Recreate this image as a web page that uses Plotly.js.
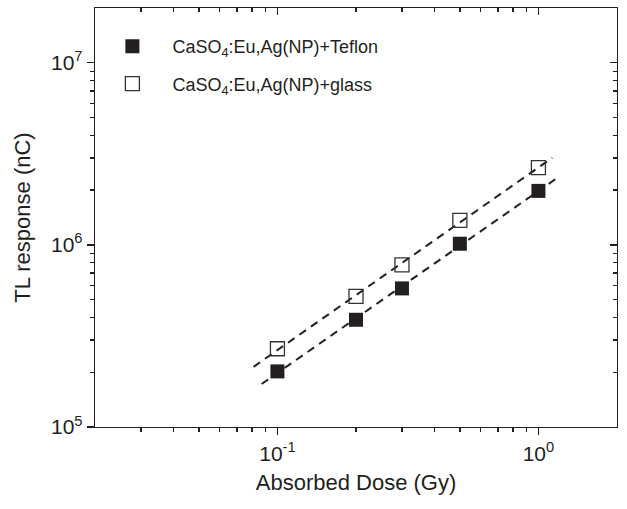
<!DOCTYPE html>
<html>
<head>
<meta charset="utf-8">
<script src="https://cdn.plot.ly/plotly-3.0.1.min.js"></script>
<style>html,body{margin:0;padding:0;background:#fff;}#chart{width:627px;height:509px;}</style>
</head>
<body>
<div id="chart"></div>
<script>
// Data
const dose = [0.1, 0.2, 0.3, 0.5, 1.0];
const teflonTL = [2.02e5, 3.88e5, 5.77e5, 1.015e6, 1.98e6];
const glassTL = [2.69e5, 5.21e5, 7.76e5, 1.363e6, 2.66e6];
const teflonFitSpan = [0.087, 1.21];
const glassFitSpan = [0.081, 1.13];
const seriesNames = ['CaSO<sub>4</sub>:Eu,Ag(NP)+Teflon', 'CaSO<sub>4</sub>:Eu,Ag(NP)+glass'];
const xTickVals = [0.1, 1];
const xTickText = ['10<sup>-1</sup>', '10<sup>0</sup>'];
const yTickVals = [1e5, 1e6, 1e7];
const yTickText = ['10<sup>5</sup>', '10<sup>6</sup>', '10<sup>7</sup>'];

// power-law (log-log linear) fit from the data
function logFit(xs, ys, span) {
  const lx = xs.map(Math.log10), ly = ys.map(Math.log10);
  const n = lx.length;
  const mx = lx.reduce((a, b) => a + b, 0) / n, my = ly.reduce((a, b) => a + b, 0) / n;
  let sxy = 0, sxx = 0;
  for (let i = 0; i < n; i++) { sxy += (lx[i] - mx) * (ly[i] - my); sxx += (lx[i] - mx) ** 2; }
  const b = sxy / sxx, a = my - b * mx;
  return span.map(x => Math.pow(10, a + b * Math.log10(x)));
}

function minorVals(lo, hi) {
  const out = [];
  for (let e = lo; e <= hi; e++) {
    for (let m = 2; m <= 9; m++) out.push(m * Math.pow(10, e));
  }
  return out;
}

const ink = '#231f20';
const font = 'Liberation Sans, Arial, sans-serif';

const traces = [
  {x: teflonFitSpan, y: logFit(dose, teflonTL, teflonFitSpan), mode: 'lines', showlegend: false,
   line: {color: ink, width: 2, dash: '8px,6px'}, hoverinfo: 'skip'},
  {x: glassFitSpan, y: logFit(dose, glassTL, glassFitSpan), mode: 'lines', showlegend: false,
   line: {color: ink, width: 2, dash: '8px,6px'}, hoverinfo: 'skip'},
  {x: dose, y: teflonTL, mode: 'markers', name: seriesNames[0], legendgroup: 'a', xaxis: 'x2', yaxis: 'y2',
   marker: {symbol: 'square', size: 14, color: ink, line: {width: 0}}},
  {x: dose, y: glassTL, mode: 'markers', name: seriesNames[1], legendgroup: 'b', xaxis: 'x2', yaxis: 'y2',
   marker: {symbol: 'square-open', size: 14, color: '#333', line: {width: 1.3}}}
];

const xr = [Math.log10(0.02), Math.log10(2)];
const yr = [5, Math.log10(2e7)];
const xMinor = minorVals(-2, -1).filter(v => v > 0.0201 && v < 1).concat([2,3,4,5,6,7,8,9].map(m => m / 10));
const yMinor = minorVals(5, 6);

const commonAxis = {
  type: 'log', showgrid: false, zeroline: false,
  showline: true, linecolor: ink, linewidth: 1.3,
  tickcolor: ink, tickwidth: 1.3, ticklen: 7,
  tickfont: {family: font, size: 21, color: ink}
};

const layout = {
  width: 627, height: 509,
  margin: {l: 95, r: 10, t: 8, b: 82},
  paper_bgcolor: '#fff', plot_bgcolor: '#fff',
  font: {family: font, color: ink},
  showlegend: true,
  legend: {x: -0.005, y: 0.952, xanchor: 'left', yanchor: 'top',
           bgcolor: 'rgba(0,0,0,0)', itemwidth: 70, tracegroupgap: 11,
           font: {family: font, size: 18, color: ink}},
  xaxis: Object.assign({}, commonAxis, {
    range: xr, tickmode: 'array', tickvals: xTickVals, ticktext: xTickText, ticks: 'outside',
    minor: {tickmode: 'array', tickvals: xMinor, ticks: 'outside', ticklen: 4, tickwidth: 1.3, tickcolor: ink},
    title: {text: 'Absorbed Dose (Gy)', font: {family: font, size: 22, color: ink}, standoff: 11}
  }),
  xaxis2: Object.assign({}, commonAxis, {
    overlaying: 'x', anchor: 'y2', side: 'top', range: xr, tickmode: 'array', tickvals: xTickVals,
    ticks: 'inside', showticklabels: false,
    minor: {tickmode: 'array', tickvals: xMinor, ticks: 'inside', ticklen: 4, tickwidth: 1.3, tickcolor: ink}
  }),
  yaxis: Object.assign({}, commonAxis, {
    range: yr, tickmode: 'array', tickvals: yTickVals, ticktext: yTickText, ticks: 'outside',
    minor: {tickmode: 'array', tickvals: yMinor, ticks: 'outside', ticklen: 4, tickwidth: 1.3, tickcolor: ink},
    title: {text: 'TL response (nC)', font: {family: font, size: 22, color: ink}, standoff: 14}
  }),
  yaxis2: Object.assign({}, commonAxis, {
    overlaying: 'y', anchor: 'x2', side: 'right', range: yr, tickmode: 'array', tickvals: yTickVals,
    ticks: 'inside', showticklabels: false,
    minor: {tickmode: 'array', tickvals: yMinor, ticks: 'inside', ticklen: 4, tickwidth: 1.3, tickcolor: ink}
  })
};

Plotly.newPlot('chart', traces, layout, {displayModeBar: false, staticPlot: true});
</script>
</body>
</html>
